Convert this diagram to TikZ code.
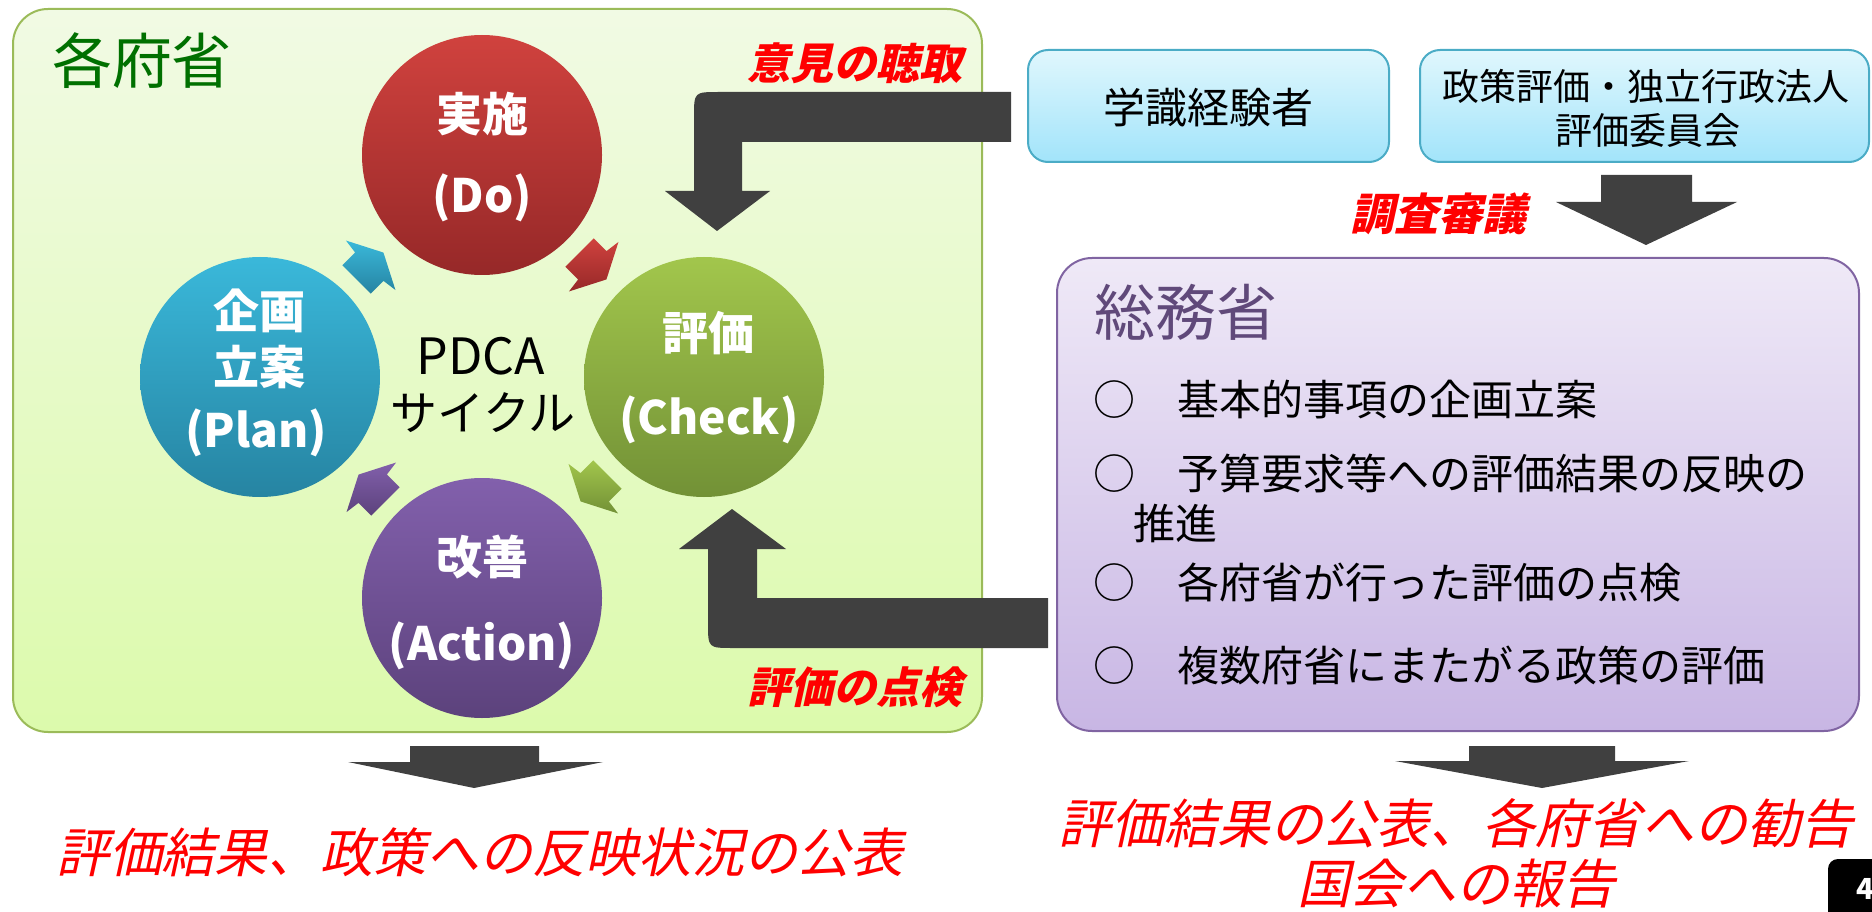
\documentclass[tikz,border=0pt]{standalone}
\usepackage{fontspec}
\setmainfont{Noto Sans CJK JP}
\newfontfamily\slantjp{Noto Sans CJK JP}[FakeSlant=0.22]
\definecolor{gboxtop}{RGB}{241,250,228}
\definecolor{gboxbot}{RGB}{220,250,172}
\definecolor{gboxline}{RGB}{155,187,89}
\definecolor{cboxtop}{RGB}{224,247,253}
\definecolor{cboxbot}{RGB}{162,228,250}
\definecolor{cboxline}{RGB}{75,172,198}
\definecolor{pboxtop}{RGB}{239,233,247}
\definecolor{pboxbot}{RGB}{200,182,228}
\definecolor{pboxline}{RGB}{128,100,162}
\definecolor{redtop}{RGB}{208,66,62}
\definecolor{redbot}{RGB}{150,40,40}
\definecolor{bluetop}{RGB}{58,184,218}
\definecolor{bluebot}{RGB}{38,132,162}
\definecolor{grntop}{RGB}{162,198,76}
\definecolor{grnbot}{RGB}{114,145,54}
\definecolor{purtop}{RGB}{130,96,172}
\definecolor{purbot}{RGB}{92,66,124}
\definecolor{darkarrow}{RGB}{64,64,64}
\definecolor{ministry}{RGB}{0,112,0}
\definecolor{somu}{RGB}{96,73,122}
\newcommand\fsz[1]{\fontsize{#1pt}{#1pt}\selectfont}
\newcommand\cycarrow[4]{%
  \shade[top color=#4top, bottom color=#4bot, shift={(#1,#2)}, rotate=#3]
    (-19,-20) -- (-1,-20) -- (1,-35) -- (19,0) -- (1,35) -- (-1,20) -- (-19,20) -- cycle;}
\begin{document}
\begin{tikzpicture}[x=1pt,y=-1pt,
  pdcacirc/.style={circle, minimum size=240pt, inner sep=0pt},
  wtxt/.style={text=white, font=\bfseries\fsz{46}, inner sep=0pt},
  redlab/.style={text=red, font=\slantjp\bfseries\fsz{43}, inner sep=0pt},
  redbig/.style={text=red, font=\slantjp\fsz{53}, inner sep=0pt},
  bullet/.style={anchor=west, font=\fsz{42}, inner sep=0pt, text=black},
  bigarrow/.style={fill=darkarrow},
  cbox/.style={rounded corners=20pt, top color=cboxtop, bottom color=cboxbot, draw=cboxline, line width=2pt}
]
\useasboundingbox (0,0) rectangle (1872,912);
\begin{scope}
\clip (0,0) rectangle (1872,912);
% green ministry box
\draw[rounded corners=35pt, top color=gboxtop, bottom color=gboxbot, draw=gboxline, line width=2pt] (13,9) rectangle (982,732);
\node[text=ministry, font=\fsz{60}, inner sep=0pt] (kakufu) at (142,61) {各府省};
% purple box
\draw[rounded corners=35pt, top color=pboxtop, bottom color=pboxbot, draw=pboxline, line width=2pt] (1057,258) rectangle (1859,731);
\node[text=somu, font=\fsz{61}, inner sep=0pt] (somu) at (1186,312) {総務省};
\node[bullet] (b1) at (1093,400) {○　基本的事項の企画立案};
\node[bullet] (b2) at (1093,473) {○　予算要求等への評価結果の反映の};
\node[bullet] (b2b) at (1133,523) {推進};
\node[bullet] (b3) at (1093,582) {○　各府省が行った評価の点検};
\node[bullet] (b4) at (1093,665) {○　複数府省にまたがる政策の評価};
% cyan boxes
\draw[cbox] (1028,50) rectangle (1389,162);
\node[font=\fsz{42}, inner sep=0pt] (gakushiki) at (1208,108) {学識経験者};
\draw[cbox] (1420,50) rectangle (1869,162);
\node[font=\fsz{37}, inner sep=0pt] (seisaku1) at (1646,86) {政策評価・独立行政法人};
\node[font=\fsz{37}, inner sep=0pt] (seisaku2) at (1648,131) {評価委員会};
% big dark arrows
\fill[bigarrow] (1011,92) -- (719,92) .. controls (694,92) .. (694,117) -- (694,191) -- (665,191) -- (717,231) -- (770,191) -- (742,191) -- (742,142) -- (1011,142) -- cycle;
\fill[bigarrow] (1048,598) -- (757,598) -- (757,549) -- (786,549) -- (732,509) -- (679,549) -- (708,549) -- (708,623) .. controls (708,648) .. (733,648) -- (1048,648) -- cycle;
\fill[bigarrow] (1601,175) -- (1692,175) -- (1692,202) -- (1737,202) -- (1646,245) -- (1556,202) -- (1601,202) -- cycle;
\fill[bigarrow] (410,746) -- (539,746) -- (539,762) -- (603,762) -- (474,788) -- (348,762) -- (410,762) -- cycle;
\fill[bigarrow] (1469,746) -- (1615,746) -- (1615,761) -- (1689,761) -- (1542,788) -- (1395,761) -- (1469,761) -- cycle;
% PDCA circles
\node[pdcacirc, top color=redtop, bottom color=redbot] (do) at (482,155) {};
\node[pdcacirc, top color=bluetop, bottom color=bluebot] (plan) at (260,377) {};
\node[pdcacirc, top color=grntop, bottom color=grnbot] (check) at (704,377) {};
\node[pdcacirc, top color=purtop, bottom color=purbot] (action) at (482,598) {};
\node[wtxt] (do1) at (482,114) {実施};
\node[wtxt] (do2) at (482,198) {(Do)};
\node[wtxt] (plan1) at (259,311) {企画};
\node[wtxt] (plan2) at (259,367) {立案};
\node[wtxt] (plan3) at (256,433) {(Plan)};
\node[wtxt] (check1) at (708,333) {評価};
\node[wtxt] (check2) at (709,420) {(Check)};
\node[wtxt] (action1) at (482,557) {改善};
\node[wtxt] (action2) at (482,646) {(Action)};
\node[font=\fsz{50}, inner sep=0pt] (pdca) at (481,356) {PDCA};
\node[font=\fsz{47}, inner sep=0pt] (cycle) at (483,413) {サイクル};
% small cycle arrows
\cycarrow{370}{266}{45}{blue}
\cycarrow{593}{266}{-45}{red}
\cycarrow{594}{488}{-135}{grn}
\cycarrow{372}{488}{135}{pur}
% red labels
\node[redlab] (iken) at (855,63) {意見の聴取};
\node[redlab] (tenken) at (855,687) {評価の点検};
\node[redlab, font=\slantjp\bfseries\fsz{44}] (chosa) at (1438,214) {調査審議};
\node[redbig] (kohyo) at (480,852) {評価結果、政策への反映状況の公表};
\node[redbig] (kankoku) at (1456,823) {評価結果の公表、各府省への勧告};
\node[redbig] (hokoku) at (1456,884) {国会への報告};
% page number
\fill[black, rounded corners=10pt] (1828,859) rectangle (1910,960);
\node[anchor=west, text=white, font=\bfseries\fsz{29}, inner sep=0pt] (pageno) at (1856,889) {4};
\end{scope}
\end{tikzpicture}
\end{document}
